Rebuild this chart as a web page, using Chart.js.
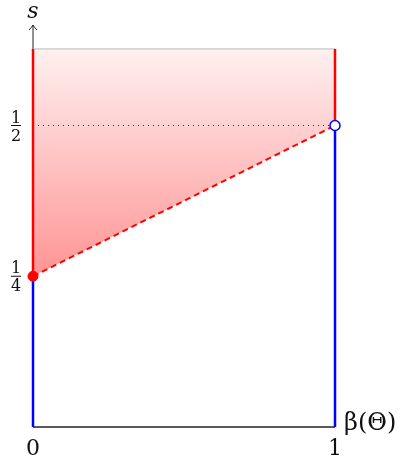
<!DOCTYPE html>
<html>
<head>
<meta charset="utf-8">
<script src="https://cdn.jsdelivr.net/npm/chart.js@4"></script>
<style>
  html, body { margin: 0; padding: 0; background: #fff; }
  #wrap { width: 402px; height: 462px; }
</style>
</head>
<body>
<div id="wrap"><canvas id="chart" width="402" height="462"></canvas></div>
<script>
// values
const xEnds = [0, 1];
const sLow = 0.25;     // s at beta = 0
const sHigh = 0.5;     // s at beta = 1
const sTop = 0.627;    // top of the shaded area
const sMax = 2 / 3;    // arrow tip of the s axis

const xTickValues = [0, 1];
const xTickLabels = ['0', '1'];
const yTickValues = [0.25, 0.5];
const yTickLabels = [['1', '4'], ['1', '2']];

const xTitle = 'β(Θ)';
const yTitle = 's';

const serif = '"DejaVu Serif", "Liberation Serif", serif';

const pts = (xs, ys) => xs.map((x, i) => ({ x: x, y: ys[i] }));

// axes, ticks and titles drawn with the scales' own pixel mapping
const decor = {
  id: 'decor',
  beforeDatasetsDraw(chart) {
    const c = chart.ctx, xs = chart.scales.x, ys = chart.scales.y;
    c.save();
    // x axis
    c.strokeStyle = '#222';
    c.lineWidth = 1.3;
    c.beginPath();
    c.moveTo(xs.getPixelForValue(0), ys.getPixelForValue(0));
    c.lineTo(xs.getPixelForValue(1), ys.getPixelForValue(0));
    c.stroke();
    // s axis with arrow
    const ax = xs.getPixelForValue(0);
    const tip = ys.getPixelForValue(sMax);
    c.lineWidth = 1;
    c.beginPath();
    c.moveTo(ax, ys.getPixelForValue(0));
    c.lineTo(ax, tip);
    c.stroke();
    c.beginPath();
    c.moveTo(ax - 4, tip + 5);
    c.quadraticCurveTo(ax - 1, tip + 2, ax, tip);
    c.quadraticCurveTo(ax + 1, tip + 2, ax + 4, tip + 5);
    c.stroke();
    c.restore();
  },
  afterDraw(chart) {
    const c = chart.ctx, xs = chart.scales.x, ys = chart.scales.y;
    c.save();
    c.fillStyle = '#111';
    c.font = '22px ' + serif;
    c.textAlign = 'center';
    c.textBaseline = 'alphabetic';
    xTickValues.forEach((v, i) => {
      c.fillText(xTickLabels[i], xs.getPixelForValue(v), ys.getPixelForValue(0) + 28);
    });
    // fractions on the s axis
    c.font = '16px ' + serif;
    yTickValues.forEach((v, i) => {
      const py = ys.getPixelForValue(v);
      const cx = 16;
      c.fillText(yTickLabels[i][0], cx, py - 3);
      c.fillText(yTickLabels[i][1], cx, py + 15);
      c.fillRect(cx - 5, py - 0.5, 10, 1);
    });
    // titles
    c.font = 'italic 22px ' + serif;
    c.fillText(yTitle, xs.getPixelForValue(0), 18);
    c.font = '24px ' + serif;
    c.textAlign = 'left';
    c.fillText(xTitle, xs.getPixelForValue(1) + 9, ys.getPixelForValue(0) + 3);
    c.restore();
  }
};

function shade(context) {
  const chart = context.chart;
  const ys = chart.scales.y;
  if (!chart.chartArea || !ys) return 'rgba(255,0,0,0.2)';
  const y0 = ys.getPixelForValue(sTop), y1 = ys.getPixelForValue(sLow);
  if (!isFinite(y0) || !isFinite(y1)) return 'rgba(255,0,0,0.2)';
  const g = chart.ctx.createLinearGradient(0, y0, 0, y1);
  g.addColorStop(0, 'rgba(255,0,0,0.06)');
  g.addColorStop(1, 'rgba(255,0,0,0.42)');
  return g;
}

const line = (data, color, width, extra) => Object.assign({
  data: data,
  borderColor: color,
  borderWidth: width,
  pointRadius: 0,
  fill: false,
  showLine: true,
  clip: false
}, extra || {});

function build() {
  new Chart(document.getElementById('chart'), {
    type: 'scatter',
    data: {
      datasets: [
        // top edge of the region, filled down to the dashed line
        line(pts(xEnds, [sTop, sTop]), '#bbbbbb', 1, { fill: 1, backgroundColor: shade, order: 9 }),
        // dashed lower boundary
        line(pts(xEnds, [sLow, sHigh]), '#ff0000', 2, { borderDash: [6, 4], order: 5 }),
        // dotted level s = 1/2
        line(pts(xEnds, [sHigh, sHigh]), '#333333', 1, { borderDash: [1, 4], order: 6 }),
        // red vertical pieces
        line(pts([0, 0], [sLow, sTop]), '#ff0000', 2.5, { order: 4 }),
        line(pts([1, 1], [sHigh, sTop]), '#ff0000', 2.5, { order: 4 }),
        // blue vertical pieces
        line(pts([0, 0], [0, sLow]), '#0000ff', 2.5, { order: 4 }),
        line(pts([1, 1], [0, sHigh]), '#0000ff', 2.5, { order: 4 }),
        // closed and open end points
        { data: pts([0], [sLow]), showLine: false, pointRadius: 5, pointBackgroundColor: '#ff0000',
          pointBorderColor: '#ff0000', pointBorderWidth: 1, clip: false, order: 1 },
        { data: pts([1], [sHigh]), showLine: false, pointRadius: 5, pointBackgroundColor: '#ffffff',
          pointBorderColor: '#0000ff', pointBorderWidth: 1.5, clip: false, order: 1 }
      ]
    },
    options: {
      responsive: false,
      animation: false,
      layout: { padding: { left: 33, right: 67, top: 25, bottom: 35 } },
      scales: {
        x: { type: 'linear', min: 0, max: 1, display: false },
        y: { type: 'linear', min: 0, max: sMax, display: false }
      },
      plugins: { legend: { display: false }, tooltip: { enabled: false } }
    },
    plugins: [decor]
  });
}

Promise.all([
  document.fonts.load('22px "DejaVu Serif"'),
  document.fonts.load('italic 22px "DejaVu Serif"')
]).then(build, build);
</script>
</body>
</html>
